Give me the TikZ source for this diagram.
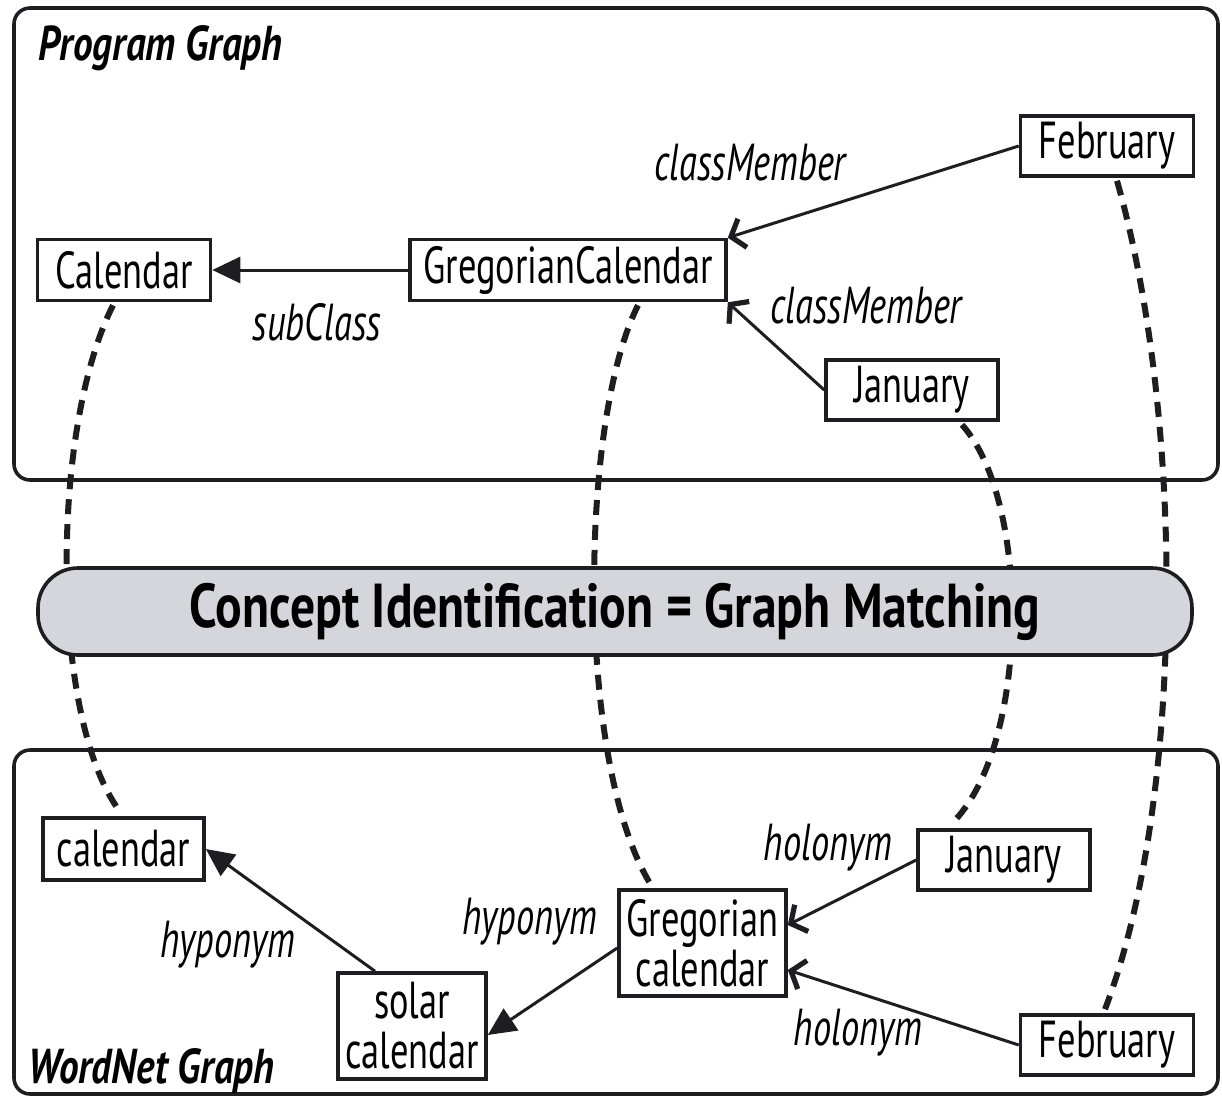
\documentclass[tikz,border=0pt]{standalone}
\usepackage{fontspec}
\setmainfont{PT Sans}[FakeStretch=0.70,
  BoldFeatures={FakeStretch=0.80},
  BoldItalicFeatures={FakeStretch=0.80}]
\usetikzlibrary{arrows.meta,calc}
\definecolor{bannergray}{RGB}{213,214,219}
\definecolor{ink}{RGB}{30,30,34}
\tikzset{
  box/.style={draw=ink, line width=1.8pt, fill=white, inner sep=0pt, align=center,
    font=\fontsize{26}{25}\selectfont},
  lbl/.style={inner sep=0pt, font=\fontsize{26}{25}\selectfont\itshape},
  title/.style={inner sep=0pt, anchor=base west, font=\fontsize{24.5}{25}\selectfont\bfseries\itshape},
  frame/.style={draw=ink, line width=1.8pt, rounded corners=8pt},
  link/.style={draw=ink, line width=1.5pt},
  filledtip/.style={-{Triangle[length=14pt,width=13pt]}},
  barbtip/.style={-{Straight Barb[length=6pt,width=15pt,line width=2.6pt]}},
  match/.style={draw=ink, line width=3pt, dash pattern=on 7.5pt off 5pt},
}
\begin{document}
\begin{tikzpicture}[x=0.5pt,y=-0.5pt]
\useasboundingbox (0,0) rectangle (1222,1099);

% the two graph panels
\draw[frame] (14,8) rectangle (1218,480);
\draw[frame] (14,750) rectangle (1218,1094);
\node[title] (pgtitle) at (38,60) {Program Graph};
\node[title] (wntitle) at (28,1083) {WordNet Graph};

% program graph
\node[box, minimum width=86.5pt, minimum height=30.5pt] (Cal)  at (124,270)  {Calendar};
\node[box, minimum width=158pt,  minimum height=30.5pt] (GC)   at (568,270)  {GregorianCalendar};
\node[box, minimum width=86.5pt, minimum height=30pt]   (FebT) at (1107,146) {February};
\node[box, minimum width=86pt,   minimum height=30pt]   (JanT) at (912,390)  {January};

\node[lbl] (lsub) at (317,322) {subClass};
\node[lbl] (lcm1) at (750,163) {classMember};
\node[lbl] (lcm2) at (866,306) {classMember};

\draw[link, filledtip] (GC.west) -- (Cal.east);
\draw[link, barbtip] (FebT.west) -- (GC.north east);
\draw[link, barbtip] (JanT.west) -- (GC.south east);

% WordNet graph
\node[box, minimum width=80.5pt, minimum height=31pt] (cal)  at (123.5,849) {calendar};
\node[box, minimum width=74pt,   minimum height=53pt] (sol)  at (412,1026)  {solar\\calendar};
\node[box, minimum width=83.5pt, minimum height=53pt] (Greg) at (702.5,943) {Gregorian\\calendar};
\node[box, minimum width=86pt,   minimum height=30pt] (JanB) at (1004,860)  {January};
\node[box, minimum width=86.5pt, minimum height=30pt] (FebB) at (1107,1045) {February};

\node[lbl] (lhy1) at (228,945)  {hyponym};
\node[lbl] (lhy2) at (530,922)  {hyponym};
\node[lbl] (lho1) at (828,848)  {holonym};
\node[lbl] (lho2) at (858,1033) {holonym};

\draw[link, filledtip] ($(sol.north)+(-37,0)$) -- (cal.east);
\draw[link, filledtip] ($(Greg.west)+(0,5)$) -- ($(sol.east)+(0,9)$);
\draw[link, barbtip] (JanB.west) -- ($(Greg.east)+(0,-18)$);
\draw[link, barbtip] (FebB.west) -- ($(Greg.east)+(0,27)$);

% correspondences between the two graphs
\draw[match] ($(Cal.south)+(-11,3)$) .. controls (50,430) and (50,720) .. ($(cal.north)+(-3,-4)$);
\draw[match] ($(GC.south)+(70,3)$) .. controls (580,420) and (575,760) .. ($(Greg.north)+(-52,-4)$);
\draw[match] ($(JanT.south)+(50,3)$) .. controls (1030,500) and (1030,740) .. ($(JanB.north)+(-49,-8)$);
\draw[match] ($(FebT.south)+(10,3)$) .. controls (1185,420) and (1185,800) .. ($(FebB.north)+(-2,-4)$);

% banner across the middle
\node[draw=ink, line width=1.8pt, fill=bannergray, rounded corners=20pt,
      minimum width=577pt, minimum height=43.5pt, inner sep=0pt,
      font=\fontsize{31}{30}\selectfont\bfseries] (banner) at (615,611.5)
      {Concept Identification = Graph Matching};
\end{tikzpicture}
\end{document}
